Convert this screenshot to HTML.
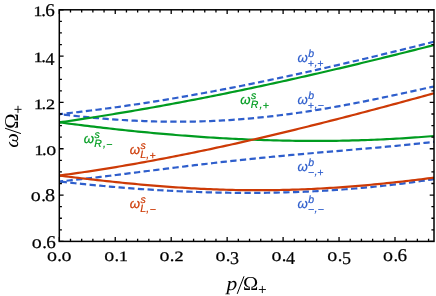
<!DOCTYPE html>
<html><head><meta charset="utf-8"><title>Dispersion plot</title>
<style>
html,body{margin:0;padding:0;background:#fff;}
body{width:436px;height:296px;overflow:hidden;font-family:"Liberation Serif",serif;}
svg{display:block;will-change:transform;}
text{text-rendering:geometricPrecision;}
.t{font-family:"Liberation Serif",serif;fill:#000;}
.ti{font-family:"Liberation Serif",serif;font-style:italic;fill:#000;}
.s{font-family:"Liberation Sans",sans-serif;font-style:italic;}
</style></head><body>
<svg width="436" height="296" viewBox="0 0 436 296">
<rect x="0" y="0" width="436" height="296" fill="#fff"/>
<defs><clipPath id="c"><rect x="59.30" y="9.80" width="375.30" height="231.60"/></clipPath></defs>

<g clip-path="url(#c)" fill="none" stroke-width="2.2">
<path d="M59.30,114.13 L62.45,113.80 L65.60,113.46 L68.75,113.12 L71.89,112.77 L75.04,112.41 L78.19,112.05 L81.34,111.68 L84.49,111.30 L87.64,110.92 L90.79,110.53 L93.94,110.14 L97.08,109.74 L100.23,109.34 L103.38,108.93 L106.53,108.51 L109.68,108.09 L112.83,107.66 L115.98,107.22 L119.13,106.79 L122.27,106.34 L125.42,105.89 L128.57,105.44 L131.72,104.97 L134.87,104.51 L138.02,104.04 L141.17,103.56 L144.32,103.08 L147.46,102.59 L150.61,102.10 L153.76,101.60 L156.91,101.09 L160.06,100.59 L163.21,100.07 L166.36,99.55 L169.51,99.03 L172.65,98.50 L175.80,97.97 L178.95,97.43 L182.10,96.89 L185.25,96.34 L188.40,95.79 L191.55,95.24 L194.70,94.67 L197.84,94.11 L200.99,93.54 L204.14,92.96 L207.29,92.39 L210.44,91.80 L213.59,91.21 L216.74,90.62 L219.89,90.03 L223.03,89.43 L226.18,88.82 L229.33,88.21 L232.48,87.60 L235.63,86.98 L238.78,86.36 L241.93,85.74 L245.08,85.11 L248.22,84.47 L251.37,83.84 L254.52,83.20 L257.67,82.55 L260.82,81.90 L263.97,81.25 L267.12,80.60 L270.27,79.94 L273.41,79.28 L276.56,78.61 L279.71,77.94 L282.86,77.27 L286.01,76.59 L289.16,75.91 L292.31,75.23 L295.46,74.54 L298.60,73.86 L301.75,73.16 L304.90,72.47 L308.05,71.77 L311.20,71.07 L314.35,70.36 L317.50,69.65 L320.65,68.94 L323.79,68.23 L326.94,67.51 L330.09,66.79 L333.24,66.07 L336.39,65.35 L339.54,64.62 L342.69,63.89 L345.84,63.16 L348.98,62.42 L352.13,61.69 L355.28,60.95 L358.43,60.20 L361.58,59.46 L364.73,58.71 L367.88,57.96 L371.03,57.21 L374.17,56.46 L377.32,55.70 L380.47,54.94 L383.62,54.18 L386.77,53.42 L389.92,52.65 L393.07,51.89 L396.22,51.12 L399.36,50.35 L402.51,49.58 L405.66,48.80 L408.81,48.03 L411.96,47.25 L415.11,46.47 L418.26,45.69 L421.41,44.91 L424.55,44.12 L427.70,43.34 L430.85,42.55 L434.00,41.76" stroke="#2e5ecc" stroke-dasharray="6.3 3.4" stroke-dashoffset="2.4"/>
<path d="M59.30,114.10 L62.45,114.48 L65.60,114.85 L68.75,115.21 L71.89,115.56 L75.04,115.91 L78.19,116.24 L81.34,116.57 L84.49,116.89 L87.64,117.20 L90.79,117.50 L93.94,117.79 L97.08,118.08 L100.23,118.35 L103.38,118.61 L106.53,118.87 L109.68,119.11 L112.83,119.34 L115.98,119.57 L119.13,119.78 L122.27,119.98 L125.42,120.18 L128.57,120.36 L131.72,120.53 L134.87,120.69 L138.02,120.84 L141.17,120.97 L144.32,121.10 L147.46,121.21 L150.61,121.32 L153.76,121.41 L156.91,121.49 L160.06,121.56 L163.21,121.61 L166.36,121.66 L169.51,121.69 L172.65,121.71 L175.80,121.72 L178.95,121.72 L182.10,121.71 L185.25,121.68 L188.40,121.64 L191.55,121.59 L194.70,121.53 L197.84,121.45 L200.99,121.36 L204.14,121.26 L207.29,121.15 L210.44,121.03 L213.59,120.89 L216.74,120.74 L219.89,120.58 L223.03,120.41 L226.18,120.23 L229.33,120.03 L232.48,119.82 L235.63,119.60 L238.78,119.37 L241.93,119.12 L245.08,118.86 L248.22,118.60 L251.37,118.32 L254.52,118.02 L257.67,117.72 L260.82,117.41 L263.97,117.08 L267.12,116.74 L270.27,116.39 L273.41,116.03 L276.56,115.66 L279.71,115.28 L282.86,114.88 L286.01,114.48 L289.16,114.07 L292.31,113.64 L295.46,113.20 L298.60,112.76 L301.75,112.30 L304.90,111.84 L308.05,111.36 L311.20,110.87 L314.35,110.38 L317.50,109.87 L320.65,109.36 L323.79,108.84 L326.94,108.31 L330.09,107.77 L333.24,107.22 L336.39,106.66 L339.54,106.09 L342.69,105.52 L345.84,104.94 L348.98,104.35 L352.13,103.75 L355.28,103.15 L358.43,102.54 L361.58,101.92 L364.73,101.30 L367.88,100.67 L371.03,100.03 L374.17,99.39 L377.32,98.74 L380.47,98.09 L383.62,97.43 L386.77,96.77 L389.92,96.10 L393.07,95.43 L396.22,94.75 L399.36,94.08 L402.51,93.39 L405.66,92.71 L408.81,92.02 L411.96,91.33 L415.11,90.64 L418.26,89.94 L421.41,89.24 L424.55,88.54 L427.70,87.85 L430.85,87.15 L434.00,86.45" stroke="#2e5ecc" stroke-dasharray="6.3 3.4" stroke-dashoffset="5.1"/>
<path d="M59.30,181.48 L62.45,181.17 L65.60,180.84 L68.75,180.51 L71.89,180.18 L75.04,179.83 L78.19,179.48 L81.34,179.13 L84.49,178.77 L87.64,178.41 L90.79,178.04 L93.94,177.67 L97.08,177.30 L100.23,176.92 L103.38,176.54 L106.53,176.16 L109.68,175.77 L112.83,175.38 L115.98,174.99 L119.13,174.60 L122.27,174.21 L125.42,173.81 L128.57,173.42 L131.72,173.02 L134.87,172.62 L138.02,172.23 L141.17,171.83 L144.32,171.43 L147.46,171.03 L150.61,170.63 L153.76,170.24 L156.91,169.84 L160.06,169.45 L163.21,169.05 L166.36,168.66 L169.51,168.27 L172.65,167.88 L175.80,167.49 L178.95,167.10 L182.10,166.72 L185.25,166.33 L188.40,165.95 L191.55,165.57 L194.70,165.20 L197.84,164.82 L200.99,164.45 L204.14,164.08 L207.29,163.72 L210.44,163.35 L213.59,162.99 L216.74,162.63 L219.89,162.28 L223.03,161.93 L226.18,161.58 L229.33,161.23 L232.48,160.89 L235.63,160.55 L238.78,160.21 L241.93,159.88 L245.08,159.55 L248.22,159.22 L251.37,158.89 L254.52,158.57 L257.67,158.25 L260.82,157.94 L263.97,157.62 L267.12,157.31 L270.27,157.01 L273.41,156.70 L276.56,156.40 L279.71,156.10 L282.86,155.81 L286.01,155.51 L289.16,155.22 L292.31,154.93 L295.46,154.65 L298.60,154.36 L301.75,154.08 L304.90,153.80 L308.05,153.52 L311.20,153.25 L314.35,152.97 L317.50,152.70 L320.65,152.43 L323.79,152.16 L326.94,151.89 L330.09,151.62 L333.24,151.35 L336.39,151.08 L339.54,150.81 L342.69,150.55 L345.84,150.28 L348.98,150.01 L352.13,149.74 L355.28,149.48 L358.43,149.21 L361.58,148.94 L364.73,148.66 L367.88,148.39 L371.03,148.11 L374.17,147.84 L377.32,147.56 L380.47,147.28 L383.62,146.99 L386.77,146.70 L389.92,146.41 L393.07,146.12 L396.22,145.82 L399.36,145.51 L402.51,145.21 L405.66,144.89 L408.81,144.57 L411.96,144.25 L415.11,143.92 L418.26,143.59 L421.41,143.24 L424.55,142.90 L427.70,142.54 L430.85,142.18 L434.00,141.81" stroke="#2e5ecc" stroke-dasharray="6.3 3.4" stroke-dashoffset="2.44"/>
<path d="M59.30,181.50 L62.45,181.85 L65.60,182.20 L68.75,182.54 L71.89,182.88 L75.04,183.22 L78.19,183.54 L81.34,183.87 L84.49,184.19 L87.64,184.50 L90.79,184.81 L93.94,185.12 L97.08,185.41 L100.23,185.71 L103.38,186.00 L106.53,186.28 L109.68,186.56 L112.83,186.83 L115.98,187.10 L119.13,187.36 L122.27,187.61 L125.42,187.86 L128.57,188.11 L131.72,188.35 L134.87,188.58 L138.02,188.81 L141.17,189.03 L144.32,189.25 L147.46,189.46 L150.61,189.66 L153.76,189.86 L156.91,190.05 L160.06,190.24 L163.21,190.42 L166.36,190.59 L169.51,190.76 L172.65,190.92 L175.80,191.08 L178.95,191.23 L182.10,191.37 L185.25,191.51 L188.40,191.64 L191.55,191.77 L194.70,191.89 L197.84,192.00 L200.99,192.10 L204.14,192.20 L207.29,192.30 L210.44,192.38 L213.59,192.46 L216.74,192.53 L219.89,192.60 L223.03,192.66 L226.18,192.71 L229.33,192.75 L232.48,192.79 L235.63,192.82 L238.78,192.85 L241.93,192.87 L245.08,192.88 L248.22,192.88 L251.37,192.88 L254.52,192.87 L257.67,192.85 L260.82,192.82 L263.97,192.79 L267.12,192.75 L270.27,192.70 L273.41,192.65 L276.56,192.59 L279.71,192.52 L282.86,192.44 L286.01,192.35 L289.16,192.26 L292.31,192.16 L295.46,192.05 L298.60,191.94 L301.75,191.82 L304.90,191.69 L308.05,191.55 L311.20,191.40 L314.35,191.25 L317.50,191.08 L320.65,190.91 L323.79,190.74 L326.94,190.55 L330.09,190.35 L333.24,190.15 L336.39,189.94 L339.54,189.72 L342.69,189.49 L345.84,189.26 L348.98,189.01 L352.13,188.76 L355.28,188.50 L358.43,188.23 L361.58,187.95 L364.73,187.67 L367.88,187.37 L371.03,187.07 L374.17,186.76 L377.32,186.44 L380.47,186.11 L383.62,185.77 L386.77,185.42 L389.92,185.07 L393.07,184.70 L396.22,184.33 L399.36,183.94 L402.51,183.55 L405.66,183.15 L408.81,182.74 L411.96,182.32 L415.11,181.89 L418.26,181.46 L421.41,181.01 L424.55,180.55 L427.70,180.09 L430.85,179.61 L434.00,179.13" stroke="#2e5ecc" stroke-dasharray="6.3 3.4" stroke-dashoffset="-1.31"/>
<path d="M59.30,122.39 L62.45,121.94 L65.60,121.49 L68.75,121.03 L71.89,120.57 L75.04,120.11 L78.19,119.64 L81.34,119.17 L84.49,118.69 L87.64,118.21 L90.79,117.73 L93.94,117.24 L97.08,116.75 L100.23,116.25 L103.38,115.75 L106.53,115.24 L109.68,114.74 L112.83,114.22 L115.98,113.71 L119.13,113.19 L122.27,112.66 L125.42,112.13 L128.57,111.60 L131.72,111.07 L134.87,110.53 L138.02,109.98 L141.17,109.44 L144.32,108.89 L147.46,108.33 L150.61,107.77 L153.76,107.21 L156.91,106.64 L160.06,106.08 L163.21,105.50 L166.36,104.93 L169.51,104.35 L172.65,103.76 L175.80,103.18 L178.95,102.58 L182.10,101.99 L185.25,101.39 L188.40,100.79 L191.55,100.19 L194.70,99.58 L197.84,98.97 L200.99,98.35 L204.14,97.74 L207.29,97.11 L210.44,96.49 L213.59,95.86 L216.74,95.23 L219.89,94.60 L223.03,93.96 L226.18,93.32 L229.33,92.67 L232.48,92.03 L235.63,91.38 L238.78,90.72 L241.93,90.07 L245.08,89.41 L248.22,88.75 L251.37,88.08 L254.52,87.41 L257.67,86.74 L260.82,86.07 L263.97,85.39 L267.12,84.71 L270.27,84.03 L273.41,83.34 L276.56,82.65 L279.71,81.96 L282.86,81.26 L286.01,80.57 L289.16,79.87 L292.31,79.16 L295.46,78.46 L298.60,77.75 L301.75,77.04 L304.90,76.33 L308.05,75.61 L311.20,74.89 L314.35,74.17 L317.50,73.45 L320.65,72.72 L323.79,71.99 L326.94,71.26 L330.09,70.52 L333.24,69.79 L336.39,69.05 L339.54,68.31 L342.69,67.56 L345.84,66.82 L348.98,66.07 L352.13,65.32 L355.28,64.56 L358.43,63.81 L361.58,63.05 L364.73,62.29 L367.88,61.53 L371.03,60.76 L374.17,60.00 L377.32,59.23 L380.47,58.46 L383.62,57.68 L386.77,56.91 L389.92,56.13 L393.07,55.35 L396.22,54.57 L399.36,53.79 L402.51,53.00 L405.66,52.21 L408.81,51.42 L411.96,50.63 L415.11,49.84 L418.26,49.04 L421.41,48.25 L424.55,47.45 L427.70,46.65 L430.85,45.84 L434.00,45.04" stroke="#009c20"/>
<path d="M59.30,122.34 L62.45,122.75 L65.60,123.17 L68.75,123.58 L71.89,123.98 L75.04,124.38 L78.19,124.78 L81.34,125.17 L84.49,125.56 L87.64,125.95 L90.79,126.33 L93.94,126.71 L97.08,127.08 L100.23,127.45 L103.38,127.82 L106.53,128.18 L109.68,128.53 L112.83,128.89 L115.98,129.23 L119.13,129.58 L122.27,129.92 L125.42,130.25 L128.57,130.58 L131.72,130.91 L134.87,131.23 L138.02,131.55 L141.17,131.86 L144.32,132.17 L147.46,132.47 L150.61,132.77 L153.76,133.06 L156.91,133.35 L160.06,133.63 L163.21,133.91 L166.36,134.18 L169.51,134.45 L172.65,134.72 L175.80,134.98 L178.95,135.23 L182.10,135.48 L185.25,135.72 L188.40,135.96 L191.55,136.20 L194.70,136.42 L197.84,136.65 L200.99,136.87 L204.14,137.08 L207.29,137.29 L210.44,137.49 L213.59,137.68 L216.74,137.88 L219.89,138.06 L223.03,138.24 L226.18,138.42 L229.33,138.59 L232.48,138.75 L235.63,138.91 L238.78,139.06 L241.93,139.21 L245.08,139.35 L248.22,139.48 L251.37,139.61 L254.52,139.73 L257.67,139.85 L260.82,139.96 L263.97,140.07 L267.12,140.17 L270.27,140.26 L273.41,140.35 L276.56,140.43 L279.71,140.51 L282.86,140.58 L286.01,140.64 L289.16,140.69 L292.31,140.75 L295.46,140.79 L298.60,140.83 L301.75,140.86 L304.90,140.88 L308.05,140.90 L311.20,140.91 L314.35,140.92 L317.50,140.92 L320.65,140.91 L323.79,140.90 L326.94,140.88 L330.09,140.85 L333.24,140.82 L336.39,140.78 L339.54,140.73 L342.69,140.67 L345.84,140.61 L348.98,140.54 L352.13,140.47 L355.28,140.39 L358.43,140.30 L361.58,140.20 L364.73,140.10 L367.88,139.99 L371.03,139.87 L374.17,139.75 L377.32,139.62 L380.47,139.48 L383.62,139.33 L386.77,139.18 L389.92,139.02 L393.07,138.85 L396.22,138.67 L399.36,138.49 L402.51,138.30 L405.66,138.10 L408.81,137.90 L411.96,137.69 L415.11,137.47 L418.26,137.24 L421.41,137.00 L424.55,136.76 L427.70,136.51 L430.85,136.25 L434.00,135.98" stroke="#009c20"/>
<path d="M59.30,175.56 L62.45,175.14 L65.60,174.71 L68.75,174.28 L71.89,173.83 L75.04,173.39 L78.19,172.93 L81.34,172.47 L84.49,172.01 L87.64,171.54 L90.79,171.06 L93.94,170.58 L97.08,170.09 L100.23,169.60 L103.38,169.10 L106.53,168.59 L109.68,168.08 L112.83,167.56 L115.98,167.04 L119.13,166.52 L122.27,165.98 L125.42,165.45 L128.57,164.90 L131.72,164.35 L134.87,163.80 L138.02,163.24 L141.17,162.68 L144.32,162.11 L147.46,161.53 L150.61,160.96 L153.76,160.37 L156.91,159.78 L160.06,159.19 L163.21,158.59 L166.36,157.99 L169.51,157.38 L172.65,156.76 L175.80,156.15 L178.95,155.52 L182.10,154.90 L185.25,154.26 L188.40,153.63 L191.55,152.99 L194.70,152.34 L197.84,151.69 L200.99,151.04 L204.14,150.38 L207.29,149.72 L210.44,149.05 L213.59,148.38 L216.74,147.70 L219.89,147.02 L223.03,146.34 L226.18,145.65 L229.33,144.96 L232.48,144.26 L235.63,143.56 L238.78,142.86 L241.93,142.15 L245.08,141.44 L248.22,140.72 L251.37,140.01 L254.52,139.28 L257.67,138.56 L260.82,137.83 L263.97,137.09 L267.12,136.36 L270.27,135.62 L273.41,134.87 L276.56,134.12 L279.71,133.37 L282.86,132.62 L286.01,131.86 L289.16,131.10 L292.31,130.34 L295.46,129.57 L298.60,128.80 L301.75,128.03 L304.90,127.25 L308.05,126.47 L311.20,125.69 L314.35,124.90 L317.50,124.11 L320.65,123.32 L323.79,122.53 L326.94,121.73 L330.09,120.93 L333.24,120.13 L336.39,119.33 L339.54,118.52 L342.69,117.71 L345.84,116.90 L348.98,116.08 L352.13,115.26 L355.28,114.44 L358.43,113.62 L361.58,112.80 L364.73,111.97 L367.88,111.14 L371.03,110.31 L374.17,109.47 L377.32,108.64 L380.47,107.80 L383.62,106.96 L386.77,106.12 L389.92,105.27 L393.07,104.43 L396.22,103.58 L399.36,102.73 L402.51,101.88 L405.66,101.03 L408.81,100.17 L411.96,99.31 L415.11,98.46 L418.26,97.59 L421.41,96.73 L424.55,95.87 L427.70,95.01 L430.85,94.14 L434.00,93.27" stroke="#cd3a06"/>
<path d="M59.30,175.66 L62.45,176.03 L65.60,176.41 L68.75,176.78 L71.89,177.15 L75.04,177.52 L78.19,177.89 L81.34,178.26 L84.49,178.62 L87.64,178.99 L90.79,179.34 L93.94,179.70 L97.08,180.05 L100.23,180.40 L103.38,180.75 L106.53,181.09 L109.68,181.43 L112.83,181.76 L115.98,182.09 L119.13,182.41 L122.27,182.73 L125.42,183.05 L128.57,183.36 L131.72,183.66 L134.87,183.96 L138.02,184.26 L141.17,184.55 L144.32,184.83 L147.46,185.11 L150.61,185.38 L153.76,185.64 L156.91,185.90 L160.06,186.15 L163.21,186.40 L166.36,186.64 L169.51,186.87 L172.65,187.09 L175.80,187.31 L178.95,187.52 L182.10,187.72 L185.25,187.92 L188.40,188.11 L191.55,188.29 L194.70,188.46 L197.84,188.63 L200.99,188.79 L204.14,188.94 L207.29,189.08 L210.44,189.21 L213.59,189.34 L216.74,189.45 L219.89,189.56 L223.03,189.66 L226.18,189.76 L229.33,189.84 L232.48,189.92 L235.63,189.98 L238.78,190.04 L241.93,190.09 L245.08,190.13 L248.22,190.16 L251.37,190.19 L254.52,190.20 L257.67,190.21 L260.82,190.21 L263.97,190.20 L267.12,190.18 L270.27,190.15 L273.41,190.11 L276.56,190.06 L279.71,190.01 L282.86,189.95 L286.01,189.87 L289.16,189.79 L292.31,189.70 L295.46,189.60 L298.60,189.50 L301.75,189.38 L304.90,189.26 L308.05,189.12 L311.20,188.98 L314.35,188.83 L317.50,188.67 L320.65,188.51 L323.79,188.33 L326.94,188.15 L330.09,187.96 L333.24,187.76 L336.39,187.55 L339.54,187.33 L342.69,187.11 L345.84,186.88 L348.98,186.64 L352.13,186.39 L355.28,186.14 L358.43,185.87 L361.58,185.60 L364.73,185.33 L367.88,185.04 L371.03,184.75 L374.17,184.46 L377.32,184.15 L380.47,183.84 L383.62,183.52 L386.77,183.20 L389.92,182.87 L393.07,182.53 L396.22,182.19 L399.36,181.84 L402.51,181.48 L405.66,181.12 L408.81,180.75 L411.96,180.38 L415.11,180.01 L418.26,179.63 L421.41,179.24 L424.55,178.85 L427.70,178.45 L430.85,178.05 L434.00,177.65" stroke="#cd3a06"/>
</g>
<path d="M59.30,241.40v-4.30M59.30,9.80v4.30M70.49,241.40v-2.60M70.49,9.80v2.60M81.68,241.40v-2.60M81.68,9.80v2.60M92.87,241.40v-2.60M92.87,9.80v2.60M104.06,241.40v-2.60M104.06,9.80v2.60M115.25,241.40v-4.30M115.25,9.80v4.30M126.44,241.40v-2.60M126.44,9.80v2.60M137.63,241.40v-2.60M137.63,9.80v2.60M148.82,241.40v-2.60M148.82,9.80v2.60M160.01,241.40v-2.60M160.01,9.80v2.60M171.20,241.40v-4.30M171.20,9.80v4.30M182.39,241.40v-2.60M182.39,9.80v2.60M193.58,241.40v-2.60M193.58,9.80v2.60M204.77,241.40v-2.60M204.77,9.80v2.60M215.96,241.40v-2.60M215.96,9.80v2.60M227.15,241.40v-4.30M227.15,9.80v4.30M238.34,241.40v-2.60M238.34,9.80v2.60M249.53,241.40v-2.60M249.53,9.80v2.60M260.72,241.40v-2.60M260.72,9.80v2.60M271.91,241.40v-2.60M271.91,9.80v2.60M283.10,241.40v-4.30M283.10,9.80v4.30M294.29,241.40v-2.60M294.29,9.80v2.60M305.48,241.40v-2.60M305.48,9.80v2.60M316.67,241.40v-2.60M316.67,9.80v2.60M327.86,241.40v-2.60M327.86,9.80v2.60M339.05,241.40v-4.30M339.05,9.80v4.30M350.24,241.40v-2.60M350.24,9.80v2.60M361.43,241.40v-2.60M361.43,9.80v2.60M372.62,241.40v-2.60M372.62,9.80v2.60M383.81,241.40v-2.60M383.81,9.80v2.60M395.00,241.40v-4.30M395.00,9.80v4.30M406.19,241.40v-2.60M406.19,9.80v2.60M417.38,241.40v-2.60M417.38,9.80v2.60M428.57,241.40v-2.60M428.57,9.80v2.60M59.30,241.40h4.30M434.00,241.40h-4.30M59.30,229.82h2.60M434.00,229.82h-2.60M59.30,218.24h2.60M434.00,218.24h-2.60M59.30,206.66h2.60M434.00,206.66h-2.60M59.30,195.08h4.30M434.00,195.08h-4.30M59.30,183.50h2.60M434.00,183.50h-2.60M59.30,171.92h2.60M434.00,171.92h-2.60M59.30,160.34h2.60M434.00,160.34h-2.60M59.30,148.76h4.30M434.00,148.76h-4.30M59.30,137.18h2.60M434.00,137.18h-2.60M59.30,125.60h2.60M434.00,125.60h-2.60M59.30,114.02h2.60M434.00,114.02h-2.60M59.30,102.44h4.30M434.00,102.44h-4.30M59.30,90.86h2.60M434.00,90.86h-2.60M59.30,79.28h2.60M434.00,79.28h-2.60M59.30,67.70h2.60M434.00,67.70h-2.60M59.30,56.12h4.30M434.00,56.12h-4.30M59.30,44.54h2.60M434.00,44.54h-2.60M59.30,32.96h2.60M434.00,32.96h-2.60M59.30,21.38h2.60M434.00,21.38h-2.60M59.30,9.80h4.30M434.00,9.80h-4.30" stroke="#000" stroke-width="1.3" fill="none"/>
<rect x="59.30" y="9.80" width="374.70" height="231.60" fill="none" stroke="#000" stroke-width="1.5"/>
<text class="t" font-size="18.5" stroke="#000" stroke-width="0.22" transform="translate(46.97,261.00) scale(1.08,1)">o</text><text class="t" font-size="18.5" stroke="#000" stroke-width="0.22" transform="translate(57.32,261.00)">.</text><text class="t" font-size="18.5" stroke="#000" stroke-width="0.22" transform="translate(61.57,261.00) scale(1.08,1)">o</text>
<text class="t" font-size="18.5" stroke="#000" stroke-width="0.22" transform="translate(104.15,261.00) scale(1.08,1)">o</text><text class="t" font-size="18.5" stroke="#000" stroke-width="0.22" transform="translate(114.50,261.00)">.</text><text class="t" font-size="14.2" stroke="#000" stroke-width="0.3" transform="translate(119.05,261.00) scale(1.25,1)">1</text>
<text class="t" font-size="18.5" stroke="#000" stroke-width="0.22" transform="translate(159.50,261.00) scale(1.08,1)">o</text><text class="t" font-size="18.5" stroke="#000" stroke-width="0.22" transform="translate(169.85,261.00)">.</text><text class="t" font-size="14.2" stroke="#000" stroke-width="0.3" transform="translate(174.40,261.00) scale(1.28,1)">2</text>
<text class="t" font-size="18.5" stroke="#000" stroke-width="0.22" transform="translate(215.45,261.00) scale(1.08,1)">o</text><text class="t" font-size="18.5" stroke="#000" stroke-width="0.22" transform="translate(225.80,261.00)">.</text><text class="t" font-size="18" stroke="#000" stroke-width="0.22" transform="translate(230.05,264.30) scale(1,1)">3</text>
<text class="t" font-size="18.5" stroke="#000" stroke-width="0.22" transform="translate(271.40,261.00) scale(1.08,1)">o</text><text class="t" font-size="18.5" stroke="#000" stroke-width="0.22" transform="translate(281.75,261.00)">.</text><text class="t" font-size="18" stroke="#000" stroke-width="0.22" transform="translate(286.00,264.30) scale(1,1)">4</text>
<text class="t" font-size="18.5" stroke="#000" stroke-width="0.22" transform="translate(327.35,261.00) scale(1.08,1)">o</text><text class="t" font-size="18.5" stroke="#000" stroke-width="0.22" transform="translate(337.70,261.00)">.</text><text class="t" font-size="18" stroke="#000" stroke-width="0.22" transform="translate(341.95,264.30) scale(1,1)">5</text>
<text class="t" font-size="18.5" stroke="#000" stroke-width="0.22" transform="translate(383.10,261.00) scale(1.08,1)">o</text><text class="t" font-size="18.5" stroke="#000" stroke-width="0.22" transform="translate(393.45,261.00)">.</text><text class="t" font-size="18" stroke="#000" stroke-width="0.22" transform="translate(397.50,261.00) scale(1.06,1)">6</text>
<text class="t" font-size="18.5" stroke="#000" stroke-width="0.22" transform="translate(31.80,247.85) scale(1.08,1)">o</text><text class="t" font-size="18.5" stroke="#000" stroke-width="0.22" transform="translate(42.15,247.85)">.</text><text class="t" font-size="18" stroke="#000" stroke-width="0.22" transform="translate(46.20,247.85) scale(1.06,1)">6</text>
<text class="t" font-size="18.5" stroke="#000" stroke-width="0.22" transform="translate(30.80,200.98) scale(1.08,1)">o</text><text class="t" font-size="18.5" stroke="#000" stroke-width="0.22" transform="translate(41.15,200.98)">.</text><text class="t" font-size="18" stroke="#000" stroke-width="0.22" transform="translate(44.90,200.98) scale(1.12,1)">8</text>
<text class="t" font-size="14.2" stroke="#000" stroke-width="0.3" transform="translate(34.50,154.96) scale(1.25,1)">1</text><text class="t" font-size="18.5" stroke="#000" stroke-width="0.22" transform="translate(42.10,154.96)">.</text><text class="t" font-size="18.5" stroke="#000" stroke-width="0.22" transform="translate(46.35,154.96) scale(1.08,1)">o</text>
<text class="t" font-size="14.2" stroke="#000" stroke-width="0.3" transform="translate(33.95,109.24) scale(1.25,1)">1</text><text class="t" font-size="18.5" stroke="#000" stroke-width="0.22" transform="translate(41.55,109.24)">.</text><text class="t" font-size="14.2" stroke="#000" stroke-width="0.3" transform="translate(46.10,109.24) scale(1.28,1)">2</text>
<text class="t" font-size="14.2" stroke="#000" stroke-width="0.3" transform="translate(33.65,61.82) scale(1.25,1)">1</text><text class="t" font-size="18.5" stroke="#000" stroke-width="0.22" transform="translate(41.25,61.82)">.</text><text class="t" font-size="18" stroke="#000" stroke-width="0.22" transform="translate(45.50,65.12) scale(1,1)">4</text>
<text class="t" font-size="14.2" stroke="#000" stroke-width="0.3" transform="translate(33.55,15.80) scale(1.25,1)">1</text><text class="t" font-size="18.5" stroke="#000" stroke-width="0.22" transform="translate(41.15,15.80)">.</text><text class="t" font-size="18" stroke="#000" stroke-width="0.22" transform="translate(45.20,15.80) scale(1.06,1)">6</text>
<g transform="translate(225.3,289.5)"><text class="ti" font-size="19.5" transform="translate(1.27,0) scale(1.1,1)">p</text><path d="M11.90,4.4 L18.70,-13.2" stroke="#000" stroke-width="1.0" fill="none"/><text class="t" font-size="19.5" transform="translate(17.64,0) scale(1.05,1)">Ω</text><path d="M33.50,0 h7.1 M37.05,-3.55 v7.1" stroke="#000" stroke-width="0.9" fill="none"/></g>
<g transform="translate(18.0,147) rotate(-90)"><text class="ti" font-size="19.5" transform="translate(-0.68,0) scale(1.06,1)">ω</text><path d="M13.40,2.9 L18.80,-13.0" stroke="#000" stroke-width="1.0" fill="none"/><text class="t" font-size="19.5" transform="translate(18.24,0) scale(1.05,1)">Ω</text><path d="M34.10,0 h7.1 M37.65,-3.55 v7.1" stroke="#000" stroke-width="0.9" fill="none"/></g>
<g fill="#009c20" stroke="#009c20" stroke-width="0.2" class="s"><text font-size="13.2" x="83.66" y="142.80">ω</text><text font-size="10.5" x="94.40" y="137.80">s</text><text font-size="10.5" x="94.17" y="146.80">R</text><text font-size="10.5" x="102.91" y="146.80">,</text><text font-size="10.5" x="106.23" y="147.50">−</text></g>
<g fill="#009c20" stroke="#009c20" stroke-width="0.2" class="s"><text font-size="13.2" x="240.36" y="103.70">ω</text><text font-size="10.5" x="251.10" y="98.70">s</text><text font-size="10.5" x="250.87" y="107.70">R</text><text font-size="10.5" x="259.61" y="107.70">,</text><text font-size="10.5" x="262.64" y="108.70">+</text></g>
<g fill="#cd3a06" stroke="#cd3a06" stroke-width="0.2" class="s"><text font-size="13.2" x="129.76" y="154.30">ω</text><text font-size="10.5" x="140.50" y="149.30">s</text><text font-size="10.5" x="140.27" y="158.30">L</text><text font-size="10.5" x="146.31" y="158.30">,</text><text font-size="10.5" x="149.44" y="159.30">+</text></g>
<g fill="#cd3a06" stroke="#cd3a06" stroke-width="0.2" class="s"><text font-size="13.2" x="129.76" y="208.00">ω</text><text font-size="10.5" x="140.50" y="203.00">s</text><text font-size="10.5" x="140.27" y="212.00">L</text><text font-size="10.5" x="146.31" y="212.00">,</text><text font-size="10.5" x="149.73" y="212.70">−</text></g>
<g fill="#2e5ecc" stroke="#2e5ecc" stroke-width="0.2" class="s"><text font-size="13.2" x="297.56" y="62.30">ω</text><text font-size="10.5" x="308.30" y="57.30">b</text><text font-size="10.5" x="307.74" y="67.30">+</text><text font-size="10.5" x="314.51" y="66.30">,</text><text font-size="10.5" x="317.34" y="67.30">+</text></g>
<g fill="#2e5ecc" stroke="#2e5ecc" stroke-width="0.2" class="s"><text font-size="13.2" x="297.56" y="104.30">ω</text><text font-size="10.5" x="308.30" y="99.30">b</text><text font-size="10.5" x="307.74" y="109.30">+</text><text font-size="10.5" x="314.51" y="108.30">,</text><text font-size="10.5" x="317.63" y="109.00">−</text></g>
<g fill="#2e5ecc" stroke="#2e5ecc" stroke-width="0.2" class="s"><text font-size="13.2" x="297.56" y="171.40">ω</text><text font-size="10.5" x="308.30" y="166.40">b</text><text font-size="10.5" x="308.03" y="176.10">−</text><text font-size="10.5" x="314.51" y="175.40">,</text><text font-size="10.5" x="317.34" y="176.40">+</text></g>
<g fill="#2e5ecc" stroke="#2e5ecc" stroke-width="0.2" class="s"><text font-size="13.2" x="297.56" y="208.00">ω</text><text font-size="10.5" x="308.30" y="203.00">b</text><text font-size="10.5" x="308.03" y="212.70">−</text><text font-size="10.5" x="314.51" y="212.00">,</text><text font-size="10.5" x="317.63" y="212.70">−</text></g>
</svg></body></html>
